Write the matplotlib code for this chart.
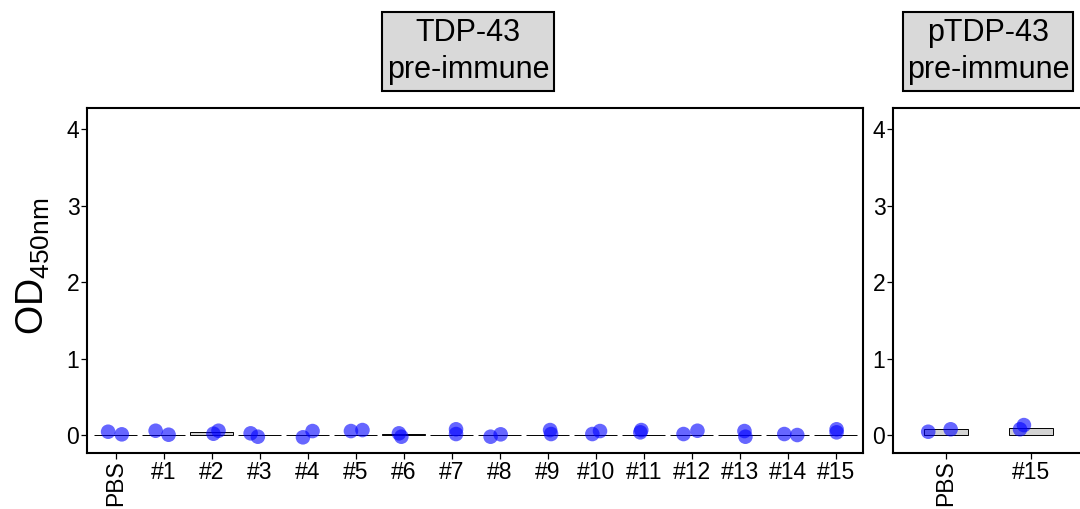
import matplotlib
matplotlib.use('Agg')
import matplotlib.pyplot as plt
import numpy as np
from matplotlib.patches import Rectangle

plt.rcParams['font.family'] = ['Liberation Sans', 'DejaVu Sans']
plt.rcParams['mathtext.fontset'] = 'custom'
plt.rcParams['mathtext.rm'] = 'Liberation Sans'

# ---------------- data ----------------
tdp_categories = ['PBS', '#1', '#2', '#3', '#4', '#5', '#6', '#7', '#8',
                  '#9', '#10', '#11', '#12', '#13', '#14', '#15']
tdp_bar = [0.005, 0.005, 0.034, 0.004, 0.003, 0.004, 0.008, 0.003,
           0.003, 0.004, 0.006, 0.005, 0.004, 0.003, 0.004, 0.004]
tdp_rep1 = [0.043, 0.056, 0.017, 0.022, -0.030, 0.052, 0.022, 0.075,
            -0.022, 0.065, 0.013, 0.065, 0.013, 0.052, 0.013, 0.075]
tdp_rep2 = [0.009, 0.004, 0.056, -0.022, 0.052, 0.065, -0.022, 0.013,
            0.009, 0.013, 0.052, 0.035, 0.056, -0.022, 0.000, 0.035]
tdp_jit1 = [-0.16, -0.17, 0.035, -0.19, -0.10, -0.10, -0.10, 0.09,
            -0.19, 0.05, -0.07, -0.05, -0.17, 0.10, -0.07, 0.02]
tdp_jit2 = [0.125, 0.10, 0.14, -0.04, 0.10, 0.14, -0.05, 0.09,
            0.02, 0.07, 0.09, -0.07, 0.12, 0.12, 0.20, 0.02]

ptdp_categories = ['PBS', '#15']
ptdp_bar = [0.085, 0.090]
ptdp_rep1 = [0.043, 0.075]
ptdp_rep2 = [0.075, 0.130]
ptdp_jit1 = [-0.21, -0.126]
ptdp_jit2 = [0.055, -0.08]

yticks = [0, 1, 2, 3, 4]
strip_titles = [('TDP-43', 'pre-immune'), ('pTDP-43', 'pre-immune')]
ylabel = r'OD$_{\mathregular{450nm}}$'

# ---------------- figure ----------------
W, H = 1080, 509
fig = plt.figure(figsize=(W / 100, H / 100), dpi=100)


def rect(x0, x1, y0, y1):
    return [x0 / W, 1 - y1 / H, (x1 - x0) / W, (y1 - y0) / H]


axL = fig.add_axes(rect(87, 863, 108, 453))
axR = fig.add_axes(rect(893, 1087, 108, 453))

panels = [
    (axL, tdp_categories, tdp_bar, tdp_rep1, tdp_rep2, tdp_jit1, tdp_jit2, 0.9, (-0.6, 15.57)),
    (axR, ptdp_categories, ptdp_bar, ptdp_rep1, ptdp_rep2, ptdp_jit1, ptdp_jit2, 0.52, (-0.626, 1.665)),
]

for ax, cats, bars, r1, r2, j1, j2, bw, xl in panels:
    x = np.arange(len(cats))
    ax.bar(x, bars, width=bw, color='#d3d3d3', edgecolor='black',
           linewidth=0.7, zorder=2)
    ax.scatter(x + np.array(j1), r1, s=110, color='blue', alpha=0.6,
               edgecolors='none', zorder=3)
    ax.scatter(x + np.array(j2), r2, s=110, color='blue', alpha=0.6,
               edgecolors='none', zorder=3)
    ax.set_xlim(*xl)
    ax.set_ylim(-0.235, 4.275)
    ax.set_yticks(yticks)
    ax.set_yticklabels([str(t) for t in yticks])
    ax.set_xticks(x)
    ax.set_xticklabels(cats)
    for lbl in ax.get_xticklabels():
        if lbl.get_text() == 'PBS':
            lbl.set_rotation(90)
            lbl.set_va('top')
            lbl.set_ha('center')
    ax.tick_params(axis='both', length=4, width=0.9, labelsize=16.5,
                   colors='black')
    ax.tick_params(axis='x', pad=1.5)
    ax.tick_params(axis='y', pad=1.5)
    for s in ax.spines.values():
        s.set_linewidth(1.5)
        s.set_color('black')
    ax.set_facecolor('white')

# strips
strip_boxes = [(382, 554, 12, 91), (903, 1073, 12, 91)]
for (x0, x1, y0, y1), (l1, l2) in zip(strip_boxes, strip_titles):
    fig.add_artist(Rectangle((x0 / W, 1 - y1 / H), (x1 - x0) / W, (y1 - y0) / H,
                             transform=fig.transFigure, facecolor='#d9d9d9',
                             edgecolor='black', linewidth=1.5))
    cx = (x0 + x1) / 2 / W
    fig.text(cx, 1 - 33 / H, l1, ha='center', va='center', fontsize=22)
    fig.text(cx, 1 - 70 / H, l2, ha='center', va='center', fontsize=22)

fig.text(33 / W, 1 - 266 / H, ylabel, rotation=90, ha='center', va='center',
         fontsize=27)

fig.savefig('out.png', dpi=100)
